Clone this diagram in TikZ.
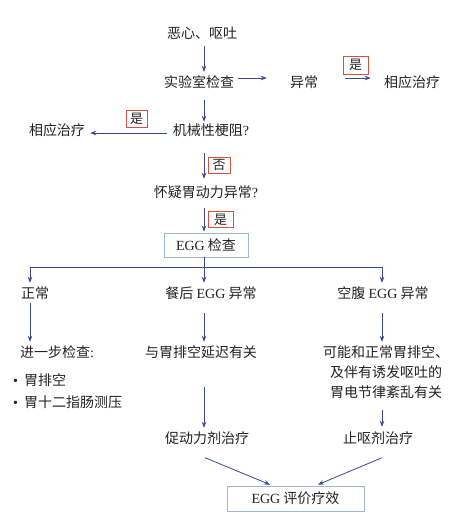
\documentclass[tikz,border=0pt]{standalone}
\usepackage{fontspec}
\setmainfont{Noto Sans CJK SC}
\newfontfamily\lat{Liberation Serif}
\usetikzlibrary{arrows.meta}
\definecolor{arrowblue}{HTML}{3A4A8E}
\definecolor{boxblue}{HTML}{9DB7D5}
\definecolor{labred}{HTML}{D9503F}
\definecolor{ink}{HTML}{222222}
\begin{document}
\begin{tikzpicture}[x=1pt,y=-1pt,
  txt/.style={inner sep=0pt, text height=12.3pt, text depth=1.7pt,
    font=\fontsize{14}{16}\selectfont, text=ink},
  lab/.style={draw=labred, line width=0.7pt, inner sep=0pt,
    text height=11.4pt, text depth=1.5pt, font=\fontsize{13}{15}\selectfont, text=ink},
  bbox/.style={draw=boxblue, line width=0.8pt, inner sep=0pt,
    text height=12.3pt, text depth=1.7pt, font=\fontsize{14}{16}\selectfont, text=ink},
  arr/.style={draw=arrowblue, line width=0.8pt, -{Stealth[length=6pt,width=4.5pt]}},
  ln/.style={draw=arrowblue, line width=0.8pt}]
\useasboundingbox (0,0) rectangle (470,523);

% columns
\coordinate (c30) at (30,0);
\coordinate (c204) at (204,0);
\coordinate (c382) at (382,0);

% nodes
\node[txt] (n1) at (202,33) {恶心、呕吐};
\node[txt] (n2) at (199,82) {实验室检查};
\node[txt] (n3) at (304,82) {异常};
\node[txt] (n4) at (412,82) {相应治疗};
\node[lab, minimum width=25pt, minimum height=18pt] (y1) at (355.5,65) {是};
\node[txt] (n5) at (211,130) {机械性梗阻{\lat ?}};
\node[txt] (n6) at (57,130) {相应治疗};
\node[lab, minimum width=21pt, minimum height=17pt] (y2) at (136.5,118.5) {是};
\node[lab, minimum width=22pt, minimum height=16pt] (no) at (219,165) {否};
\node[txt] (n7) at (206,192) {怀疑胃动力异常{\lat ?}};
\node[lab, minimum width=25pt, minimum height=16pt] (y3) at (220.5,219.5) {是};
\node[bbox, minimum width=84pt, minimum height=24pt] (egg) at (206,245) {{\lat EGG} 检查};

\node[txt] (n8) at (35,293) {正常};
\node[txt] (n9) at (211,293) {餐后 {\lat EGG} 异常};
\node[txt] (n10) at (383,293) {空腹 {\lat EGG} 异常};

\node[txt, anchor=west] (n11) at (20,352) {进一步检查{\lat :}};
\node[txt, anchor=west] (b1) at (13,380) {{\lat\textbullet}\hspace{6pt}胃排空};
\node[txt, anchor=west] (b2) at (13,402) {{\lat\textbullet}\hspace{6pt}胃十二指肠测压};

\node[txt] (n12) at (201,352) {与胃排空延迟有关};
\node[txt] (n13a) at (386,352) {可能和正常胃排空、};
\node[txt] (n13b) at (386,372) {及伴有诱发呕吐的};
\node[txt] (n13c) at (386,392) {胃电节律紊乱有关};

\node[txt] (n14) at (207,438) {促动力剂治疗};
\node[txt] (n15) at (378,438) {止呕剂治疗};
\node[bbox, minimum width=137pt, minimum height=25pt] (ev) at (295.5,498.5) {{\lat EGG} 评价疗效};

% connectors
\draw[arr, shorten <=6pt, shorten >=3pt] (n1.south -| c204) -- (n2.north -| c204);
\draw[arr, shorten <=4pt, shorten >=23pt] ([yshift=4pt]n2.east) -- ([yshift=4pt]n3.west);
\draw[arr, shorten <=27pt, shorten >=13pt] ([yshift=4pt]n3.east) -- ([yshift=4pt]n4.west);
\draw[arr, shorten <=11pt, shorten >=1pt] (n2.south -| c204) -- (n5.north -| c204);
\draw[arr, shorten <=6pt, shorten >=5pt] ([yshift=-3pt]n5.west) -- ([yshift=-3pt]n6.east);
\draw[arr, shorten <=16pt, shorten >=6pt] (n5.south -| c204) -- (n7.north -| c204);
\draw[arr, shorten <=9pt, shorten >=1pt] (n7.south -| c204) -- (egg.north -| c204);

\coordinate (split) at (204,267);
\coordinate (sl) at (30,267);
\coordinate (sr) at (382,267);
\draw[ln] (egg.south -| c204) -- (split);
\draw[ln] (sl) -- (sr);
\draw[arr, shorten >=3pt] (sl) -- (sl |- n8.north);
\draw[arr, shorten >=3pt] (split) -- (split |- n9.north);
\draw[arr, shorten >=3pt] (sr) -- (sr |- n10.north);

\draw[arr, shorten <=3pt, shorten >=3pt] (n8.south -| c30) -- (n11.north -| c30);
\draw[arr, shorten <=13pt, shorten >=3pt] (n9.south -| c204) -- (n12.north -| c204);
\draw[arr, shorten <=13pt, shorten >=3pt] (n10.south -| c382) -- (n13a.north -| c382);
\draw[arr, shorten <=28pt, shorten >=3pt] (n12.south -| c204) -- (n14.north -| c204);
\draw[arr, shorten <=11pt, shorten >=4pt] (n13c.south -| c382) -- (n15.north -| c382);

\draw[arr] ([shift={(-2,12.5)}]n14.south) -- ([shift={(-25.5,-1)}]ev.north);
\draw[arr] ([shift={(4,12.5)}]n15.south) -- ([shift={(22.5,-1)}]ev.north);
\end{tikzpicture}
\end{document}
